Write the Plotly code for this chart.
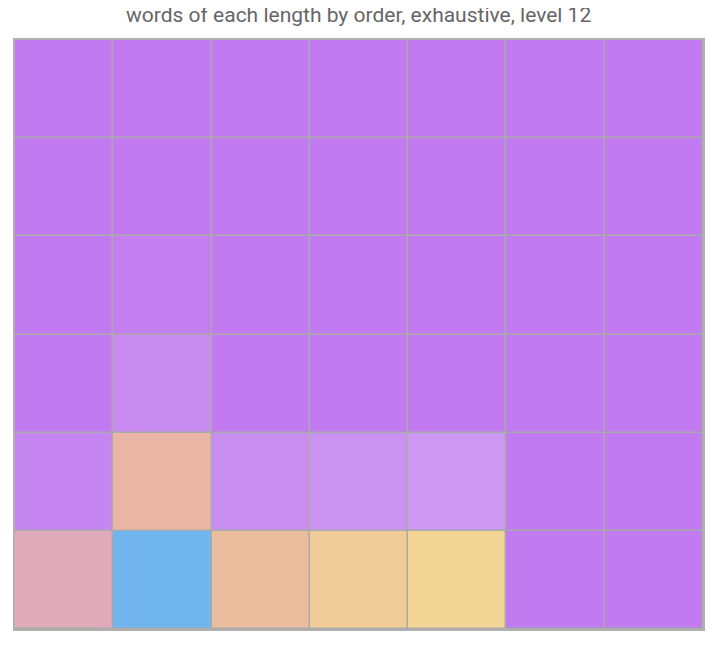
import plotly.graph_objects as go

orders = ["1", "2", "3", "4", "5", "6", "7"]
lengths = ["1", "2", "3", "4", "5", "6"]  # top to bottom

z_values = [
    [0, 0, 0, 0, 0, 0, 0],
    [0, 0, 0, 0, 0, 0, 0],
    [0, 2.3, 0, 0, 0, 0, 0],
    [0, 8, 0, 0, 0, 0, 0],
    [5, 40, 9.5, 11.5, 13.6, 0, 0],
    [30, 100, 45, 55, 65, 0, 0],
]

colorscale = [
    [0.0, "#c17aef"],
    [0.15, "#ce9bf1"],
    [0.30, "#e0aabb"],
    [0.40, "#e9b6a6"],
    [0.45, "#eabd9f"],
    [0.55, "#f0cc98"],
    [0.65, "#f3d596"],
    [0.82, "#a6d9b4"],
    [1.0, "#70b5ee"],
]

fig = go.Figure(go.Heatmap(
    z=z_values, x=orders, y=lengths,
    colorscale=colorscale, zmin=0, zmax=100,
    showscale=False, xgap=1.5, ygap=1.5,
))

fig.update_layout(
    width=720, height=646,
    margin=dict(l=7, r=25, t=32, b=25),
    title=dict(text="words of each length by order, exhaustive, level 12",
               x=0.487, xanchor="center", y=0.9905, yanchor="middle",
               font=dict(family="Roboto", size=21, color="#666666")),
    plot_bgcolor="#aaaaaa", paper_bgcolor="white",
)
fig.update_xaxes(showticklabels=False, showgrid=False, zeroline=False,
                 showline=True, linecolor="#b0b0b0", linewidth=1.5, mirror=True)
fig.update_yaxes(showticklabels=False, showgrid=False, zeroline=False,
                 autorange="reversed",
                 showline=True, linecolor="#b0b0b0", linewidth=1.5, mirror=True)

fig.write_html("out.html")
